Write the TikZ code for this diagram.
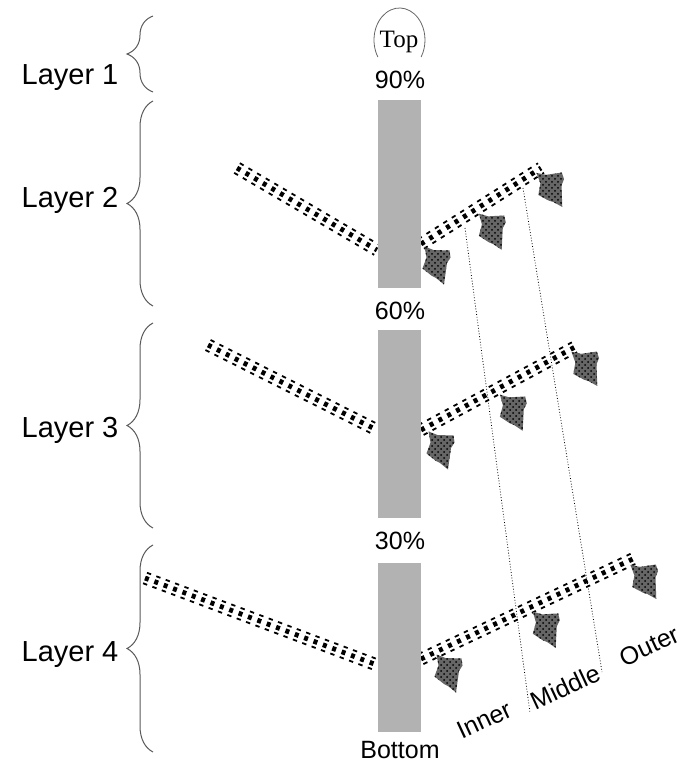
\documentclass[tikz,border=0pt]{standalone}
\usepackage{fontspec}
\setmainfont{Liberation Sans}
\newfontfamily\topfont{Liberation Serif}
\usetikzlibrary{patterns}
\usetikzlibrary{calc}
\usetikzlibrary{decorations.pathreplacing}

\tikzset{
  stem/.style={fill=black!30, draw=none},
  midrow/.style={line width=2.4pt, dash pattern=on 2pt off 3pt},
  siderow/.style={line width=0.9pt, dash pattern=on 2.2pt off 2.8pt},
  leafpat/.style={preaction={fill=black!60}, pattern=crosshatch dots, pattern color=black},
  layerbrace/.style={decorate, decoration={brace, amplitude=13pt}, draw=black!65, line width=0.5pt},
  zone/.style={densely dotted, line width=0.4pt},
  zonelabel/.style={rotate=25, inner sep=1pt},
  leaf/.pic={
    \fill[leafpat] (-12.5,-18.5) -- (-3.5,-15) -- (12.5,-14.5) -- (13.5,-7.5) -- (10,-2)
      -- (7,19.5) -- (-1,13) -- (-5,11) -- (-14.5,3.5) -- (-10.5,-7.5) -- cycle;
  }
}

% checkered branch: thick middle row, thin rows on both sides
\newcommand{\drawbranch}[2]{%
  \draw[midrow] (#1) -- (#2);
  \draw[siderow] ($(#1)!2.8pt!90:(#2)$) -- ($(#2)!2.8pt!-90:(#1)$);
  \draw[siderow] ($(#1)!2.8pt!-90:(#2)$) -- ($(#2)!2.8pt!90:(#1)$);
}

\begin{document}
\begin{tikzpicture}[x=0.5pt, y=-0.5pt, every node/.style={font=\fontsize{12.5}{15}\selectfont}]
  \useasboundingbox (0,0) rectangle (686,764);

  % layers
  \foreach \n/\ya/\yb/\yl in {1/16/92/78, 2/101/306/200, 3/323/528/430, 4/545/752/655} {
    \node[font=\fontsize{14.5}{17}\selectfont] (layer\n) at (70,\yl) {Layer \n};
    \draw[layerbrace] (153,\yb) -- (153,\ya);
  }

  % branches
  \coordinate (l2a) at (237,168);
  \coordinate (l2b) at (377,250);
  \coordinate (r2a) at (421,244);
  \coordinate (r2b) at (541,168);
  \coordinate (l3a) at (208,345);
  \coordinate (l3b) at (377,430);
  \coordinate (r3a) at (421,430);
  \coordinate (r3b) at (575,347);
  \coordinate (l4a) at (145,578);
  \coordinate (l4b) at (377,665);
  \coordinate (r4a) at (421,659);
  \coordinate (r4b) at (637,557);
  \drawbranch{l2a}{l2b}
  \drawbranch{r2a}{r2b}
  \drawbranch{l3a}{l3b}
  \drawbranch{r3a}{r3b}
  \drawbranch{l4a}{l4b}
  \drawbranch{r4a}{r4b}

  % stem
  \foreach \ya/\yb in {100/288, 330/518, 563/732}
    \fill[stem] (378,\ya) rectangle (421,\yb);

  \draw[black!60, line width=0.4pt] (399.5,40) ++(148:25.5 and 32)
    arc[start angle=148, end angle=392, x radius=25.5, y radius=32];
  \node[font=\topfont\fontsize{12.5}{15}\selectfont] (top) at (399,42) {Top};
  \node (p90) at (400,80) {90\%};
  \node (p60) at (400,311) {60\%};
  \node (p30) at (400,541) {30\%};
  \node (bottom) at (400,750) {Bottom};

  % leaves
  \pic at (437,265) {leaf};
  \pic[rotate=5] at (493,231) {leaf};
  \pic[rotate=10] at (552,189) {leaf};
  \pic at (441,450) {leaf};
  \pic[rotate=5] at (514,412) {leaf};
  \pic[rotate=10] at (587,368) {leaf};
  \pic at (449,673) {leaf};
  \pic[rotate=5] at (547,629) {leaf};
  \pic[rotate=10] at (646,581) {leaf};

  % zones
  \coordinate (ia) at (465,228);
  \coordinate (ib) at (530,713);
  \coordinate (ma) at (523,188);
  \coordinate (mb) at (602,672);
  \draw[zone] (ia) -- (ib);
  \draw[zone] (ma) -- (mb);
  \node[zonelabel] (inner) at (484,720) {Inner};
  \node[zonelabel] (middle) at (565,687) {Middle};
  \node[zonelabel] (outer) at (649,646) {Outer};
\end{tikzpicture}
\end{document}
